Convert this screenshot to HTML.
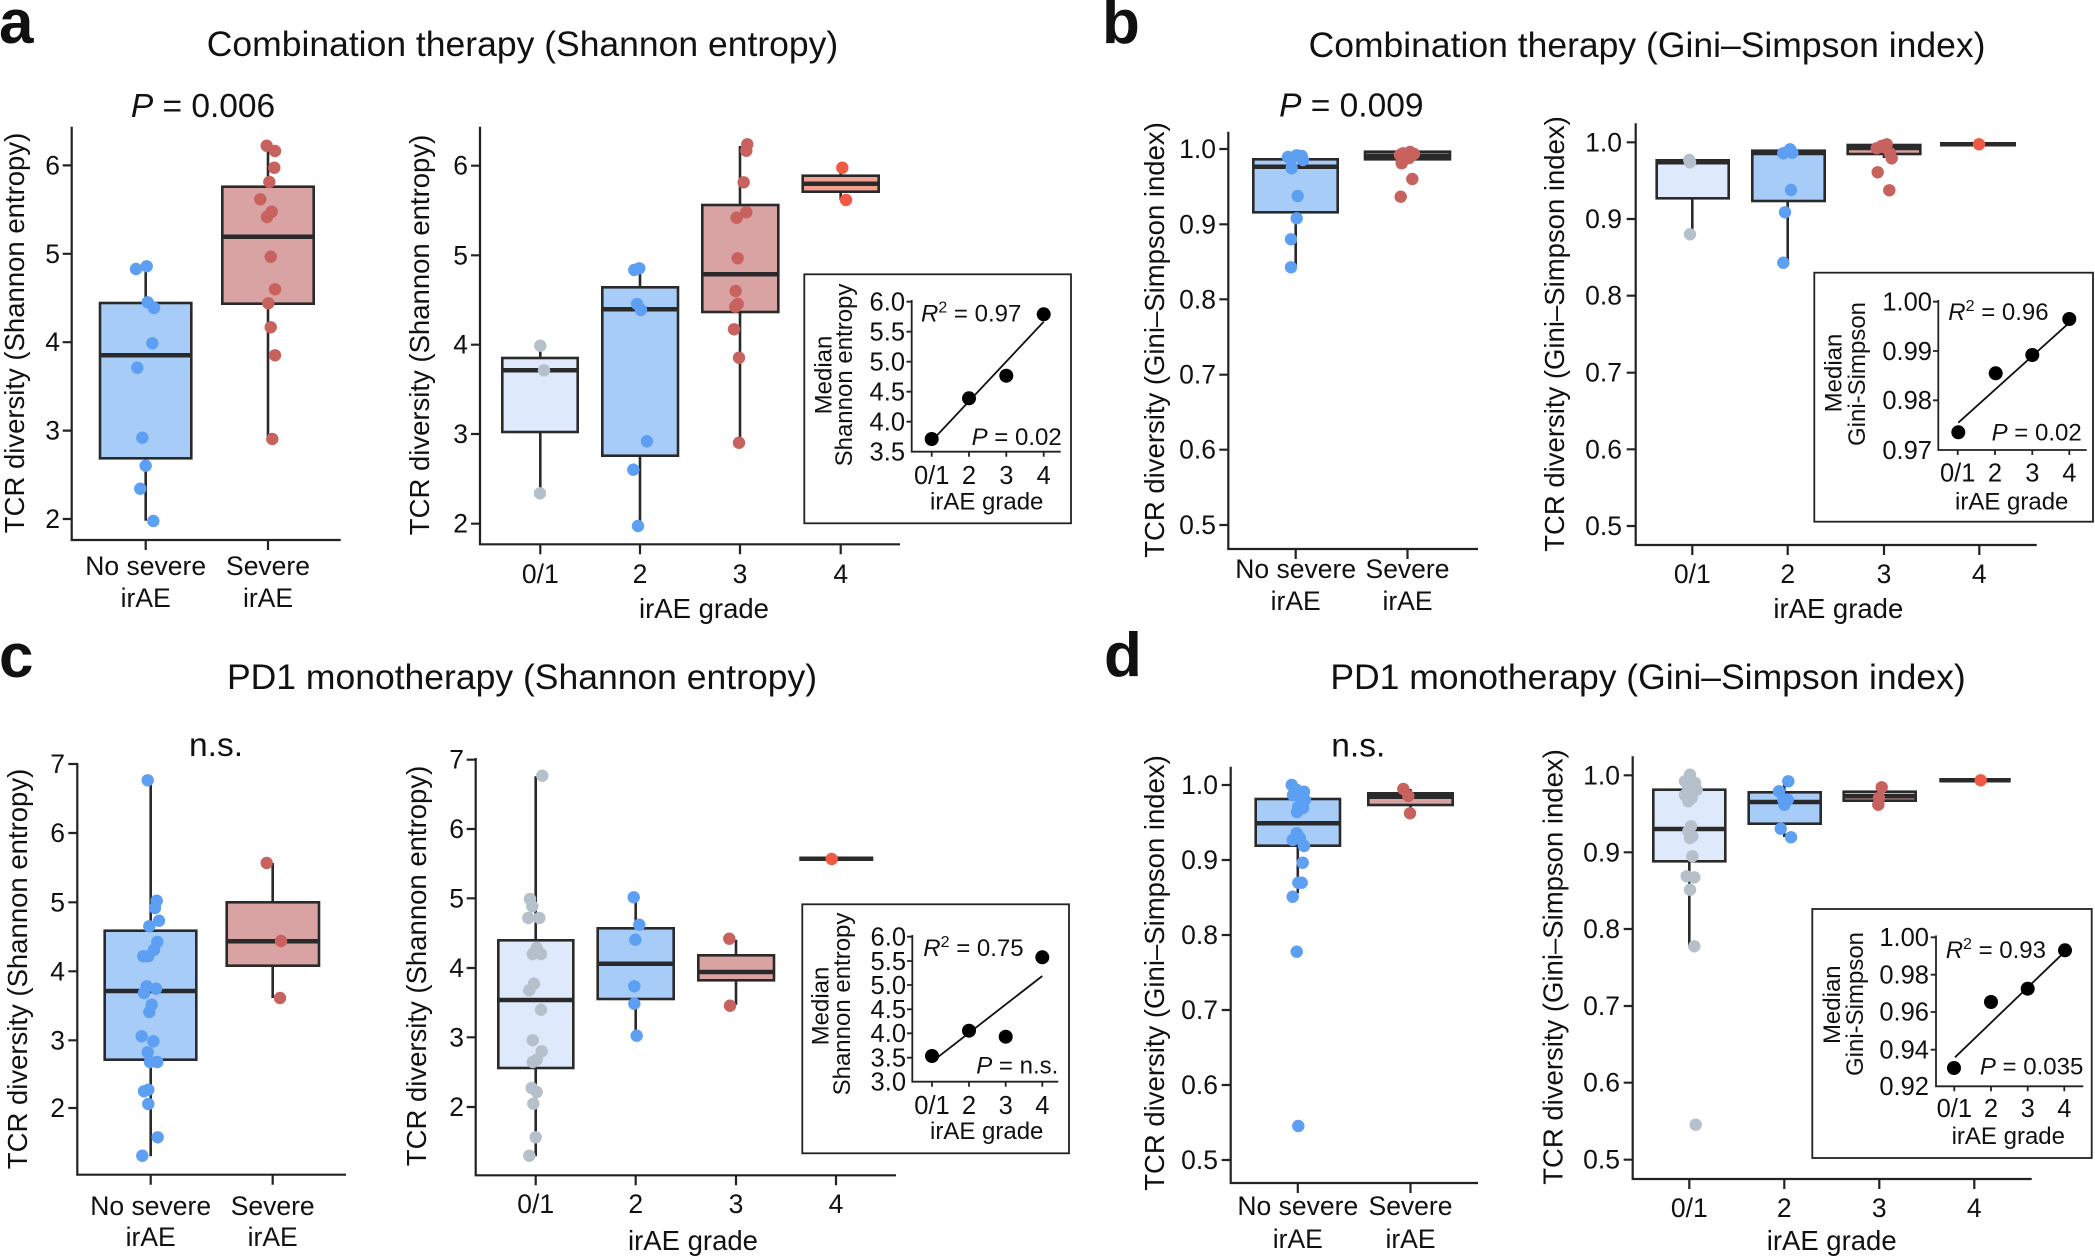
<!DOCTYPE html>
<html><head><meta charset="utf-8"><style>
html,body{margin:0;padding:0;background:#fff;}
svg{display:block;}
text{font-family:"Liberation Sans",Arial,Helvetica,sans-serif;fill:#111;}
.ax{stroke:#222;stroke-width:2.2;fill:none;}
.bx{stroke:#2a2a2a;stroke-width:2.6;}
.md{stroke:#2a2a2a;stroke-width:4.5;}
.wh{stroke:#2a2a2a;stroke-width:2.6;}
.ln{stroke:#111;stroke-width:1.8;}
.ins{fill:none;stroke:#222;stroke-width:1.8;}
.tk{font-size:26.5px;}
.lab{font-size:27.5px;}
.cat{font-size:26.5px;}
.ttl{font-size:35.5px;}
.pv{font-size:33.5px;}
.let{font-size:62px;font-weight:bold;}
.it{font-size:24px;}
.itk{font-size:25.5px;}
.cb circle,.cg circle,.cr circle,.co circle{r:6.2px;}
.ck circle{r:7px;}
.cb{fill:#5c9ff3;} .cg{fill:#b5c0ca;} .cr{fill:#c7625f;} .co{fill:#f05a45;} .ck{fill:#000;}
</style></head><body>
<svg width="2095" height="1258" viewBox="0 0 2095 1258" xmlns="http://www.w3.org/2000/svg">
<rect width="2095" height="1258" fill="#fff"/>

<!-- Panel letters and titles -->
<text class="let" x="-1" y="43">a</text>
<text class="let" x="1102" y="43">b</text>
<text class="let" x="-1" y="677">c</text>
<text class="let" x="1104" y="676">d</text>
<text class="ttl" x="522.5" y="56" text-anchor="middle">Combination therapy (Shannon entropy)</text>
<text class="ttl" x="1647" y="57" text-anchor="middle">Combination therapy (Gini–Simpson index)</text>
<text class="ttl" x="522" y="689" text-anchor="middle">PD1 monotherapy (Shannon entropy)</text>
<text class="ttl" x="1648" y="689" text-anchor="middle">PD1 monotherapy (Gini–Simpson index)</text>

<!-- ================= PANEL A LEFT ================= -->
<text class="pv" x="203" y="117" text-anchor="middle"><tspan font-style="italic">P</tspan> = 0.006</text>
<path class="ax" d="M71.7 126.7 V540 H340.7"/>
<path class="ax" d="M62.7 165.4H71.7M62.7 253.8H71.7M62.7 342.2H71.7M62.7 430.6H71.7M62.7 519H71.7M145.7 540V550M268 540V550"/>
<g class="tk" text-anchor="end">
<text x="60" y="174.4">6</text><text x="60" y="262.8">5</text><text x="60" y="351.2">4</text><text x="60" y="439.6">3</text><text x="60" y="528">2</text>
</g>
<g class="cat" text-anchor="middle">
<text x="145.7" y="575">No severe</text><text x="145.7" y="607">irAE</text>
<text x="268" y="575">Severe</text><text x="268" y="607">irAE</text>
</g>
<text class="lab" transform="translate(24,333) rotate(-90)" text-anchor="middle">TCR diversity (Shannon entropy)</text>
<path class="wh" d="M145.7 266.3V303M145.7 458.3V520.7M268 145V186.7M268 303.7V439"/>
<rect class="bx" x="100" y="303" width="91.3" height="155.3" fill="#a8ccf8"/>
<line class="md" x1="100" y1="355.3" x2="191.3" y2="355.3"/>
<rect class="bx" x="222.3" y="186.7" width="91.4" height="117" fill="#d8a3a2"/>
<line class="md" x1="222.3" y1="236.7" x2="313.7" y2="236.7"/>
<g class="cb">
<circle cx="136" cy="269" r="6.2"/><circle cx="146.7" cy="266.3" r="6.2"/><circle cx="147.7" cy="302.3" r="6.2"/><circle cx="154" cy="308" r="6.2"/><circle cx="152.3" cy="343.3" r="6.2"/><circle cx="137.3" cy="367.7" r="6.2"/><circle cx="142.3" cy="437.7" r="6.2"/><circle cx="145.7" cy="465.7" r="6.2"/><circle cx="140.3" cy="488.7" r="6.2"/><circle cx="153.3" cy="521" r="6.2"/>
</g>
<g class="cr">
<circle cx="266.7" cy="145.7" r="6.2"/><circle cx="275" cy="151" r="6.2"/><circle cx="274.3" cy="167.7" r="6.2"/><circle cx="269.3" cy="182" r="6.2"/><circle cx="260.3" cy="199.3" r="6.2"/><circle cx="271.7" cy="211.7" r="6.2"/><circle cx="267" cy="217" r="6.2"/><circle cx="270.7" cy="256.7" r="6.2"/><circle cx="275" cy="289.3" r="6.2"/><circle cx="268.3" cy="303.3" r="6.2"/><circle cx="270.7" cy="327.3" r="6.2"/><circle cx="275" cy="355.3" r="6.2"/><circle cx="272.3" cy="439" r="6.2"/>
</g>

<!-- ================= PANEL A RIGHT ================= -->
<path class="ax" d="M480 126.7V544.3H900"/>
<path class="ax" d="M471 165.7H480M471 255.3H480M471 344.7H480M471 434H480M471 523.7H480M540.3 544.3V554.3M640 544.3V554.3M740 544.3V554.3M840.7 544.3V554.3"/>
<g class="tk" text-anchor="end">
<text x="468" y="174.7">6</text><text x="468" y="264.3">5</text><text x="468" y="353.7">4</text><text x="468" y="443">3</text><text x="468" y="532.7">2</text>
</g>
<g class="tk" text-anchor="middle">
<text x="540.3" y="583">0/1</text><text x="640" y="583">2</text><text x="740" y="583">3</text><text x="840.7" y="583">4</text>
</g>
<text class="lab" x="704" y="618" text-anchor="middle">irAE grade</text>
<text class="lab" transform="translate(429,335) rotate(-90)" text-anchor="middle">TCR diversity (Shannon entropy)</text>
<path class="wh" d="M540.3 345.7V358M540.3 432V493.3M640 269V287.3M640 455.7V526M740 146V205M740 312V442.7M840.7 167.7V175.7M840.7 191.7V200"/>
<rect class="bx" x="502.3" y="358" width="75.4" height="74" fill="#deeafc"/>
<line class="md" x1="502.3" y1="370.3" x2="577.7" y2="370.3"/>
<rect class="bx" x="602.3" y="287.3" width="75.7" height="168.4" fill="#a8ccf8"/>
<line class="md" x1="602.3" y1="309.3" x2="678" y2="309.3"/>
<rect class="bx" x="702.3" y="205" width="76" height="107" fill="#d8a3a2"/>
<line class="md" x1="702.3" y1="274.3" x2="778.3" y2="274.3"/>
<rect class="bx" x="802.7" y="175.7" width="76" height="16" fill="#f4a08f"/>
<line class="md" x1="802.7" y1="183.7" x2="878.7" y2="183.7"/>
<g class="cg"><circle cx="540.3" cy="345.7" r="6.2"/><circle cx="544" cy="370.3" r="6.2"/><circle cx="540" cy="493.3" r="6.2"/></g>
<g class="cb"><circle cx="634.3" cy="270" r="6.2"/><circle cx="639.3" cy="268.3" r="6.2"/><circle cx="637" cy="304" r="6.2"/><circle cx="641" cy="310" r="6.2"/><circle cx="647" cy="441.3" r="6.2"/><circle cx="633.3" cy="469.7" r="6.2"/><circle cx="638" cy="526" r="6.2"/></g>
<g class="cr"><circle cx="747.3" cy="144.3" r="6.2"/><circle cx="746.3" cy="150.7" r="6.2"/><circle cx="743.7" cy="182.3" r="6.2"/><circle cx="746.3" cy="212.3" r="6.2"/><circle cx="736.7" cy="217.7" r="6.2"/><circle cx="737.7" cy="258.3" r="6.2"/><circle cx="735.7" cy="291" r="6.2"/><circle cx="737.7" cy="304" r="6.2"/><circle cx="735.3" cy="306.7" r="6.2"/><circle cx="734" cy="329.3" r="6.2"/><circle cx="739" cy="357.7" r="6.2"/><circle cx="739" cy="442.7" r="6.2"/></g>
<g class="co"><circle cx="842.3" cy="167.7" r="6.2"/><circle cx="846" cy="200" r="6.2"/></g>
<!-- inset a -->
<rect class="ins" x="804.3" y="274.3" width="266.7" height="249"/>
<path class="ax" style="stroke-width:1.8" d="M911.7 300V451.7H1060.7M906.5 301.7H911.7M906.5 331.7H911.7M906.5 361.7H911.7M906.5 391.7H911.7M906.5 421.7H911.7M931.7 451.7V456.7M969 451.7V456.7M1006.3 451.7V456.7M1043.7 451.7V456.7"/>
<g class="itk" text-anchor="end">
<text x="905" y="310.5">6.0</text><text x="905" y="340.5">5.5</text><text x="905" y="370.5">5.0</text><text x="905" y="400.5">4.5</text><text x="905" y="430.5">4.0</text><text x="905" y="460.5">3.5</text>
</g>
<g class="itk" text-anchor="middle">
<text x="931.7" y="484">0/1</text><text x="969" y="484">2</text><text x="1006.3" y="484">3</text><text x="1043.7" y="484">4</text>
</g>
<g class="it" text-anchor="middle">
<text x="986.7" y="509.5">irAE grade</text>
<text transform="translate(831.7,375) rotate(-90)">Median</text>
<text transform="translate(852,375) rotate(-90)">Shannon entropy</text>
</g>
<line class="ln" x1="931.7" y1="441" x2="1043.7" y2="321.7"/>
<g class="ck"><circle cx="931.7" cy="439" r="7"/><circle cx="969" cy="398.3" r="7"/><circle cx="1006.3" cy="375.7" r="7"/><circle cx="1043.7" cy="314.3" r="7"/></g>
<text class="it" x="921" y="321.7"><tspan font-style="italic">R</tspan><tspan font-size="16" dy="-9">2</tspan><tspan dy="9"> = 0.97</tspan></text>
<text class="it" x="1061.7" y="445" text-anchor="end"><tspan font-style="italic">P</tspan> = 0.02</text>

<!-- ================= PANEL B LEFT ================= -->
<text class="pv" x="1351.3" y="116.7" text-anchor="middle"><tspan font-style="italic">P</tspan> = 0.009</text>
<path class="ax" d="M1228.3 131.7V549H1478"/>
<path class="ax" d="M1219.3 149H1228.3M1219.3 224.3H1228.3M1219.3 299.3H1228.3M1219.3 374.7H1228.3M1219.3 449.7H1228.3M1219.3 525H1228.3M1295.7 549V559M1407.5 549V559"/>
<g class="tk" text-anchor="end">
<text x="1216" y="158">1.0</text><text x="1216" y="233.3">0.9</text><text x="1216" y="308.3">0.8</text><text x="1216" y="383.7">0.7</text><text x="1216" y="458.7">0.6</text><text x="1216" y="534">0.5</text>
</g>
<g class="cat" text-anchor="middle">
<text x="1295.7" y="578">No severe</text><text x="1295.7" y="610">irAE</text>
<text x="1407.5" y="578">Severe</text><text x="1407.5" y="610">irAE</text>
</g>
<text class="lab" transform="translate(1164,340) rotate(-90)" text-anchor="middle">TCR diversity (Gini–Simpson index)</text>
<path class="wh" d="M1295.7 153V159.3M1295.7 212.3V266.7M1407.5 159.3V163"/>
<rect class="bx" x="1253.3" y="159.3" width="84.4" height="53" fill="#a8ccf8"/>
<line class="md" x1="1253.3" y1="166.7" x2="1337.7" y2="166.7"/>
<rect class="bx" x="1365" y="151.7" width="85" height="7.6" fill="#d8a3a2"/>
<line class="md" x1="1365" y1="155.7" x2="1450" y2="155.7"/>
<g class="cb"><circle cx="1291" cy="159.3" r="6.2"/><circle cx="1296.7" cy="155.3" r="6.2"/><circle cx="1301.7" cy="156" r="6.2"/><circle cx="1288" cy="157" r="6.2"/><circle cx="1303" cy="160" r="6.2"/><circle cx="1291.7" cy="168.3" r="6.2"/><circle cx="1297.7" cy="196" r="6.2"/><circle cx="1296.7" cy="218.3" r="6.2"/><circle cx="1291" cy="239.3" r="6.2"/><circle cx="1291" cy="267.3" r="6.2"/></g>
<g class="cr"><circle cx="1403" cy="153.3" r="6.2"/><circle cx="1410" cy="152" r="6.2"/><circle cx="1414" cy="154" r="6.2"/><circle cx="1406" cy="156" r="6.2"/><circle cx="1400" cy="155" r="6.2"/><circle cx="1409" cy="158" r="6.2"/><circle cx="1401.7" cy="163.3" r="6.2"/><circle cx="1412.3" cy="179" r="6.2"/><circle cx="1400.7" cy="196.7" r="6.2"/></g>

<!-- ================= PANEL B RIGHT ================= -->
<path class="ax" d="M1635.7 123.3V545H2036.7"/>
<path class="ax" d="M1626.7 142.3H1635.7M1626.7 219H1635.7M1626.7 295.7H1635.7M1626.7 372.7H1635.7M1626.7 449.3H1635.7M1626.7 526H1635.7M1692.3 545V555M1787.7 545V555M1884 545V555M1979.3 545V555"/>
<g class="tk" text-anchor="end">
<text x="1622" y="151.3">1.0</text><text x="1622" y="228">0.9</text><text x="1622" y="304.7">0.8</text><text x="1622" y="381.7">0.7</text><text x="1622" y="458.3">0.6</text><text x="1622" y="535">0.5</text>
</g>
<g class="tk" text-anchor="middle">
<text x="1692.3" y="583">0/1</text><text x="1787.7" y="583">2</text><text x="1884" y="583">3</text><text x="1979.3" y="583">4</text>
</g>
<text class="lab" x="1838.3" y="618" text-anchor="middle">irAE grade</text>
<text class="lab" transform="translate(1564,334) rotate(-90)" text-anchor="middle">TCR diversity (Gini–Simpson index)</text>
<path class="wh" d="M1692.3 198.3V233.3M1787.7 148V150.7M1787.7 201V262.7M1884 143V145M1884 154V158"/>
<rect class="bx" x="1656.7" y="160.3" width="72" height="38" fill="#deeafc"/>
<line class="md" x1="1656.7" y1="162.3" x2="1728.7" y2="162.3"/>
<rect class="bx" x="1752.3" y="150.7" width="72.4" height="50.3" fill="#a8ccf8"/>
<line class="md" x1="1752.3" y1="153" x2="1824.7" y2="153"/>
<rect class="bx" x="1847.7" y="145" width="72.6" height="9" fill="#d8a3a2"/>
<line class="md" x1="1847.7" y1="148" x2="1920.3" y2="148"/>
<line class="md" x1="1940" y1="144.3" x2="2016" y2="144.3"/>
<g class="cg"><circle cx="1689.3" cy="160" r="6.2"/><circle cx="1690" cy="162.3" r="6.2"/><circle cx="1690" cy="234.3" r="6.2"/></g>
<g class="cb"><circle cx="1783.3" cy="153.3" r="6.2"/><circle cx="1790" cy="149.3" r="6.2"/><circle cx="1792.3" cy="152.7" r="6.2"/><circle cx="1791" cy="190" r="6.2"/><circle cx="1785" cy="212.3" r="6.2"/><circle cx="1783.3" cy="262.7" r="6.2"/></g>
<g class="cr"><circle cx="1881.7" cy="146" r="6.2"/><circle cx="1886.7" cy="144.3" r="6.2"/><circle cx="1876.7" cy="148.3" r="6.2"/><circle cx="1890" cy="153.3" r="6.2"/><circle cx="1891.7" cy="158.3" r="6.2"/><circle cx="1877.7" cy="172.3" r="6.2"/><circle cx="1889.3" cy="190.3" r="6.2"/></g>
<g class="co"><circle cx="1979" cy="144.3" r="6.2"/></g>
<!-- inset b -->
<rect class="ins" x="1814.3" y="272.7" width="278.7" height="249"/>
<path class="ax" style="stroke-width:1.8" d="M1938.3 300V450H2086.7M1933 301.7H1938.3M1933 351H1938.3M1933 400.3H1938.3M1957.7 450V455M1995 450V455M2032.3 450V455M2069.3 450V455"/>
<g class="itk" text-anchor="end">
<text x="1932" y="310.5">1.00</text><text x="1932" y="359.8">0.99</text><text x="1932" y="409">0.98</text><text x="1932" y="458.8">0.97</text>
</g>
<g class="itk" text-anchor="middle">
<text x="1957.7" y="481.5">0/1</text><text x="1995" y="481.5">2</text><text x="2032.3" y="481.5">3</text><text x="2069.3" y="481.5">4</text>
</g>
<g class="it" text-anchor="middle">
<text x="2011.7" y="509.5">irAE grade</text>
<text transform="translate(1841.7,373) rotate(-90)">Median</text>
<text transform="translate(1865,374) rotate(-90)">Gini-Simpson</text>
</g>
<line class="ln" x1="1958.3" y1="422.7" x2="2069.3" y2="322.7"/>
<g class="ck"><circle cx="1958.3" cy="432.3" r="7"/><circle cx="1995.7" cy="373.3" r="7"/><circle cx="2032.3" cy="355" r="7"/><circle cx="2069.3" cy="319" r="7"/></g>
<text class="it" x="1948.3" y="320"><tspan font-style="italic">R</tspan><tspan font-size="16" dy="-9">2</tspan><tspan dy="9"> = 0.96</tspan></text>
<text class="it" x="2081.7" y="440.7" text-anchor="end"><tspan font-style="italic">P</tspan> = 0.02</text>

<!-- ================= PANEL C LEFT ================= -->
<text class="pv" x="216" y="756" text-anchor="middle">n.s.</text>
<path class="ax" d="M77.3 763V1174.7H346"/>
<path class="ax" d="M68.3 764H77.3M68.3 833H77.3M68.3 902.3H77.3M68.3 971.3H77.3M68.3 1040.3H77.3M68.3 1108H77.3M150.7 1174.7V1184.7M272.7 1174.7V1184.7"/>
<g class="tk" text-anchor="end">
<text x="65" y="773">7</text><text x="65" y="842">6</text><text x="65" y="911.3">5</text><text x="65" y="980.3">4</text><text x="65" y="1049.3">3</text><text x="65" y="1117">2</text>
</g>
<g class="cat" text-anchor="middle">
<text x="150.7" y="1215">No severe</text><text x="150.7" y="1246">irAE</text>
<text x="272.7" y="1215">Severe</text><text x="272.7" y="1246">irAE</text>
</g>
<text class="lab" transform="translate(27,969) rotate(-90)" text-anchor="middle">TCR diversity (Shannon entropy)</text>
<path class="wh" d="M150.7 779.7V930.7M150.7 1059.7V1156.3M272.7 863V902.3M272.7 965.7V998"/>
<rect class="bx" x="104.7" y="930.7" width="91.6" height="129" fill="#a8ccf8"/>
<line class="md" x1="104.7" y1="991" x2="196.3" y2="991"/>
<rect class="bx" x="226.7" y="902.3" width="92.3" height="63.4" fill="#d8a3a2"/>
<line class="md" x1="226.7" y1="941.3" x2="319" y2="941.3"/>
<g class="cb">
<circle cx="147.7" cy="780.3" r="6.2"/><circle cx="156.7" cy="900.7" r="6.2"/><circle cx="155" cy="908" r="6.2"/><circle cx="159" cy="920.7" r="6.2"/><circle cx="149.3" cy="926.3" r="6.2"/><circle cx="157.3" cy="942" r="6.2"/><circle cx="154" cy="949.7" r="6.2"/><circle cx="143.3" cy="956.3" r="6.2"/><circle cx="148.3" cy="956.3" r="6.2"/><circle cx="146.7" cy="986.3" r="6.2"/><circle cx="156" cy="988.7" r="6.2"/><circle cx="144" cy="993" r="6.2"/><circle cx="151.7" cy="1004.7" r="6.2"/><circle cx="149.3" cy="1012" r="6.2"/><circle cx="141.7" cy="1036.3" r="6.2"/><circle cx="153.3" cy="1041.3" r="6.2"/><circle cx="147.7" cy="1052.3" r="6.2"/><circle cx="150" cy="1062" r="6.2"/><circle cx="157.3" cy="1062" r="6.2"/><circle cx="148.3" cy="1089.7" r="6.2"/><circle cx="144" cy="1091.3" r="6.2"/><circle cx="148.3" cy="1104" r="6.2"/><circle cx="157.7" cy="1137.3" r="6.2"/><circle cx="142.3" cy="1155.7" r="6.2"/>
</g>
<g class="cr"><circle cx="266.7" cy="863" r="6.2"/><circle cx="281" cy="941" r="6.2"/><circle cx="280" cy="998" r="6.2"/></g>

<!-- ================= PANEL C RIGHT ================= -->
<path class="ax" d="M475.7 758V1175.3H896"/>
<path class="ax" d="M466.7 759.7H475.7M466.7 829H475.7M466.7 898.3H475.7M466.7 968H475.7M466.7 1037.3H475.7M466.7 1107H475.7M535.7 1175.3V1185.3M635.7 1175.3V1185.3M736 1175.3V1185.3M836 1175.3V1185.3"/>
<g class="tk" text-anchor="end">
<text x="464" y="768.7">7</text><text x="464" y="838">6</text><text x="464" y="907.3">5</text><text x="464" y="977">4</text><text x="464" y="1046.3">3</text><text x="464" y="1116">2</text>
</g>
<g class="tk" text-anchor="middle">
<text x="535.7" y="1213">0/1</text><text x="635.7" y="1213">2</text><text x="736" y="1213">3</text><text x="836" y="1213">4</text>
</g>
<text class="lab" x="693" y="1250" text-anchor="middle">irAE grade</text>
<text class="lab" transform="translate(426,966) rotate(-90)" text-anchor="middle">TCR diversity (Shannon entropy)</text>
<path class="wh" d="M535.7 776.3V940.3M535.7 1068V1156.3M635.7 898V928.3M635.7 999V1035.7M736 939.7V955.3M736 980.3V1004.7"/>
<rect class="bx" x="498.3" y="940.3" width="75" height="127.7" fill="#deeafc"/>
<line class="md" x1="498.3" y1="1000" x2="573.3" y2="1000"/>
<rect class="bx" x="597.7" y="928.3" width="76" height="70.7" fill="#a8ccf8"/>
<line class="md" x1="597.7" y1="963.7" x2="673.7" y2="963.7"/>
<rect class="bx" x="698.3" y="955.3" width="75.7" height="25" fill="#d8a3a2"/>
<line class="md" x1="698.3" y1="972" x2="774" y2="972"/>
<line class="md" x1="799.3" y1="858.7" x2="873.3" y2="858.7"/>
<g class="cg">
<circle cx="542.3" cy="775.7" r="6.2"/><circle cx="530" cy="899" r="6.2"/><circle cx="532.3" cy="906.3" r="6.2"/><circle cx="528.3" cy="918" r="6.2"/><circle cx="539.3" cy="918" r="6.2"/><circle cx="536.7" cy="948" r="6.2"/><circle cx="532.7" cy="954" r="6.2"/><circle cx="541" cy="954" r="6.2"/><circle cx="534" cy="983.7" r="6.2"/><circle cx="529.3" cy="990.3" r="6.2"/><circle cx="541" cy="1009.7" r="6.2"/><circle cx="532.7" cy="1040.3" r="6.2"/><circle cx="541.7" cy="1051.3" r="6.2"/><circle cx="536.7" cy="1059.7" r="6.2"/><circle cx="532.7" cy="1062" r="6.2"/><circle cx="531.7" cy="1088" r="6.2"/><circle cx="536.7" cy="1092" r="6.2"/><circle cx="533.3" cy="1103.7" r="6.2"/><circle cx="535.7" cy="1137.3" r="6.2"/><circle cx="529.3" cy="1155.7" r="6.2"/>
</g>
<g class="cb"><circle cx="633.7" cy="897.3" r="6.2"/><circle cx="639.3" cy="924.7" r="6.2"/><circle cx="635.3" cy="939.7" r="6.2"/><circle cx="634.3" cy="986.3" r="6.2"/><circle cx="634.3" cy="1003.7" r="6.2"/><circle cx="636.7" cy="1035.7" r="6.2"/></g>
<g class="cr"><circle cx="729.3" cy="938.7" r="6.2"/><circle cx="730" cy="1005.7" r="6.2"/></g>
<g class="co"><circle cx="831.7" cy="859" r="6.2"/></g>
<!-- inset c -->
<rect class="ins" x="802.3" y="904.3" width="266.7" height="249"/>
<path class="ax" style="stroke-width:1.8" d="M912.3 935V1081.7H1058.3M907 936.7H912.3M907 961H912.3M907 985H912.3M907 1009.3H912.3M907 1033.3H912.3M907 1057.7H912.3M932 1081.7V1086.7M969 1081.7V1086.7M1005.7 1081.7V1086.7M1042.3 1081.7V1086.7"/>
<g class="itk" text-anchor="end">
<text x="906" y="945.5">6.0</text><text x="906" y="969.8">5.5</text><text x="906" y="993.8">5.0</text><text x="906" y="1018">4.5</text><text x="906" y="1042">4.0</text><text x="906" y="1066.5">3.5</text><text x="906" y="1090.5">3.0</text>
</g>
<g class="itk" text-anchor="middle">
<text x="932" y="1114">0/1</text><text x="969" y="1114">2</text><text x="1005.7" y="1114">3</text><text x="1042.3" y="1114">4</text>
</g>
<g class="it" text-anchor="middle">
<text x="986.7" y="1139">irAE grade</text>
<text transform="translate(828.3,1006) rotate(-90)">Median</text>
<text transform="translate(850,1004) rotate(-90)">Shannon entropy</text>
</g>
<line class="ln" x1="932" y1="1061.7" x2="1042.3" y2="976"/>
<g class="ck"><circle cx="932" cy="1056" r="7"/><circle cx="969" cy="1030.7" r="7"/><circle cx="1005.7" cy="1036.7" r="7"/><circle cx="1042.3" cy="957.3" r="7"/></g>
<text class="it" x="923.3" y="956"><tspan font-style="italic">R</tspan><tspan font-size="16" dy="-9">2</tspan><tspan dy="9"> = 0.75</tspan></text>
<text class="it" x="1058.3" y="1073.3" text-anchor="end"><tspan font-style="italic">P</tspan> = n.s.</text>

<!-- ================= PANEL D LEFT ================= -->
<text class="pv" x="1358.3" y="756.7" text-anchor="middle">n.s.</text>
<path class="ax" d="M1230.7 766.7V1183H1478"/>
<path class="ax" d="M1221.7 785H1230.7M1221.7 860H1230.7M1221.7 935H1230.7M1221.7 1010H1230.7M1221.7 1085H1230.7M1221.7 1160H1230.7M1297.8 1183V1193M1410.5 1183V1193"/>
<g class="tk" text-anchor="end">
<text x="1218" y="794">1.0</text><text x="1218" y="869">0.9</text><text x="1218" y="944">0.8</text><text x="1218" y="1019">0.7</text><text x="1218" y="1094">0.6</text><text x="1218" y="1169">0.5</text>
</g>
<g class="cat" text-anchor="middle">
<text x="1297.8" y="1215">No severe</text><text x="1297.8" y="1248">irAE</text>
<text x="1410.5" y="1215">Severe</text><text x="1410.5" y="1248">irAE</text>
</g>
<text class="lab" transform="translate(1164,973) rotate(-90)" text-anchor="middle">TCR diversity (Gini–Simpson index)</text>
<path class="wh" d="M1297.8 785V799M1297.8 845.7V893.3M1410.5 789V793.3M1410.5 805V813"/>
<rect class="bx" x="1255.7" y="799" width="84.3" height="46.7" fill="#a8ccf8"/>
<line class="md" x1="1255.7" y1="823.3" x2="1340" y2="823.3"/>
<rect class="bx" x="1368.3" y="793.3" width="84.4" height="11.7" fill="#d8a3a2"/>
<line class="md" x1="1368.3" y1="796.7" x2="1452.7" y2="796.7"/>
<g class="cb">
<circle cx="1291.7" cy="785" r="6.2"/><circle cx="1304" cy="791.7" r="6.2"/><circle cx="1296.7" cy="790" r="6.2"/><circle cx="1300" cy="796.7" r="6.2"/><circle cx="1305" cy="800" r="6.2"/><circle cx="1298.3" cy="806.7" r="6.2"/><circle cx="1293" cy="795" r="6.2"/><circle cx="1303" cy="808" r="6.2"/><circle cx="1297" cy="812" r="6.2"/><circle cx="1296.7" cy="833.3" r="6.2"/><circle cx="1300" cy="838.3" r="6.2"/><circle cx="1292.7" cy="840" r="6.2"/><circle cx="1304" cy="846" r="6.2"/><circle cx="1302.7" cy="862.7" r="6.2"/><circle cx="1298.3" cy="882.7" r="6.2"/><circle cx="1301.7" cy="882.7" r="6.2"/><circle cx="1292.7" cy="896.7" r="6.2"/><circle cx="1296.7" cy="951.7" r="6.2"/><circle cx="1298.3" cy="1126" r="6.2"/>
</g>
<g class="cr"><circle cx="1403.3" cy="789" r="6.2"/><circle cx="1408.3" cy="796" r="6.2"/><circle cx="1410" cy="813.3" r="6.2"/></g>

<!-- ================= PANEL D RIGHT ================= -->
<path class="ax" d="M1632.7 756.3V1179H2031.7"/>
<path class="ax" d="M1623.7 775.3H1632.7M1623.7 852.3H1632.7M1623.7 929H1632.7M1623.7 1006H1632.7M1623.7 1082.7H1632.7M1623.7 1159.7H1632.7M1689.3 1179V1189M1784.3 1179V1189M1879.3 1179V1189M1974.3 1179V1189"/>
<g class="tk" text-anchor="end">
<text x="1620" y="784.3">1.0</text><text x="1620" y="861.3">0.9</text><text x="1620" y="938">0.8</text><text x="1620" y="1015">0.7</text><text x="1620" y="1091.7">0.6</text><text x="1620" y="1168.7">0.5</text>
</g>
<g class="tk" text-anchor="middle">
<text x="1689.3" y="1217">0/1</text><text x="1784.3" y="1217">2</text><text x="1879.3" y="1217">3</text><text x="1974.3" y="1217">4</text>
</g>
<text class="lab" x="1831.7" y="1250" text-anchor="middle">irAE grade</text>
<text class="lab" transform="translate(1562.5,967) rotate(-90)" text-anchor="middle">TCR diversity (Gini–Simpson index)</text>
<path class="wh" d="M1689.3 775V789.7M1689.3 861.3V946.3M1784.3 781V792.3M1784.3 823.7V837M1879.3 787V791.7M1879.3 800.7V804.7"/>
<rect class="bx" x="1653.3" y="789.7" width="72" height="71.6" fill="#deeafc"/>
<line class="md" x1="1653.3" y1="829" x2="1725.3" y2="829"/>
<rect class="bx" x="1748.7" y="792.3" width="72" height="31.4" fill="#a8ccf8"/>
<line class="md" x1="1748.7" y1="802" x2="1820.7" y2="802"/>
<rect class="bx" x="1843.7" y="791.7" width="72" height="9" fill="#d8a3a2"/>
<line class="md" x1="1843.7" y1="796.3" x2="1915.7" y2="796.3"/>
<line class="md" x1="1939.3" y1="780.3" x2="2010.7" y2="780.3"/>
<g class="cg">
<circle cx="1690" cy="774.7" r="6.2"/><circle cx="1685" cy="781.3" r="6.2"/><circle cx="1695" cy="783" r="6.2"/><circle cx="1688.3" cy="788" r="6.2"/><circle cx="1696.7" cy="789.7" r="6.2"/><circle cx="1685" cy="795" r="6.2"/><circle cx="1691.7" cy="798" r="6.2"/><circle cx="1688.3" cy="801.3" r="6.2"/><circle cx="1691" cy="826.3" r="6.2"/><circle cx="1688.3" cy="831.3" r="6.2"/><circle cx="1692.3" cy="836.3" r="6.2"/><circle cx="1690" cy="838" r="6.2"/><circle cx="1692.3" cy="856.3" r="6.2"/><circle cx="1686.7" cy="876.3" r="6.2"/><circle cx="1694.3" cy="877.3" r="6.2"/><circle cx="1690" cy="889.7" r="6.2"/><circle cx="1694.3" cy="946.3" r="6.2"/><circle cx="1695.7" cy="1124.7" r="6.2"/>
</g>
<g class="cb"><circle cx="1788.3" cy="781.3" r="6.2"/><circle cx="1779" cy="791.3" r="6.2"/><circle cx="1783.3" cy="799.7" r="6.2"/><circle cx="1787.7" cy="799.7" r="6.2"/><circle cx="1784.3" cy="804.7" r="6.2"/><circle cx="1780.7" cy="828.7" r="6.2"/><circle cx="1791" cy="837.3" r="6.2"/></g>
<g class="cr"><circle cx="1881.7" cy="787.3" r="6.2"/><circle cx="1879" cy="798" r="6.2"/><circle cx="1878.3" cy="804.7" r="6.2"/></g>
<g class="co"><circle cx="1980.7" cy="780.3" r="6.2"/></g>
<!-- inset d -->
<rect class="ins" x="1812.3" y="909" width="279.4" height="249"/>
<path class="ax" style="stroke-width:1.8" d="M1936 935.5V1086.3H2083.3M1930.7 937.3H1936M1930.7 974.7H1936M1930.7 1012H1936M1930.7 1049.7H1936M1954.3 1086.3V1091.3M1991 1086.3V1091.3M2027.7 1086.3V1091.3M2064.3 1086.3V1091.3"/>
<g class="itk" text-anchor="end">
<text x="1929" y="946">1.00</text><text x="1929" y="983.4">0.98</text><text x="1929" y="1020.7">0.96</text><text x="1929" y="1058.4">0.94</text><text x="1929" y="1095">0.92</text>
</g>
<g class="itk" text-anchor="middle">
<text x="1954.3" y="1117">0/1</text><text x="1991" y="1117">2</text><text x="2027.7" y="1117">3</text><text x="2064.3" y="1117">4</text>
</g>
<g class="it" text-anchor="middle">
<text x="2008.3" y="1144">irAE grade</text>
<text transform="translate(1840,1004.7) rotate(-90)">Median</text>
<text transform="translate(1863,1004) rotate(-90)">Gini-Simpson</text>
</g>
<line class="ln" x1="1955" y1="1057.3" x2="2061.7" y2="954.7"/>
<g class="ck"><circle cx="1954" cy="1068" r="7"/><circle cx="1991" cy="1002" r="7"/><circle cx="2027.7" cy="988.7" r="7"/><circle cx="2065" cy="950.3" r="7"/></g>
<text class="it" x="1945.7" y="958"><tspan font-style="italic">R</tspan><tspan font-size="16" dy="-9">2</tspan><tspan dy="9"> = 0.93</tspan></text>
<text class="it" x="2083.3" y="1074.7" text-anchor="end"><tspan font-style="italic">P</tspan> = 0.035</text>
</svg>
</body></html>
